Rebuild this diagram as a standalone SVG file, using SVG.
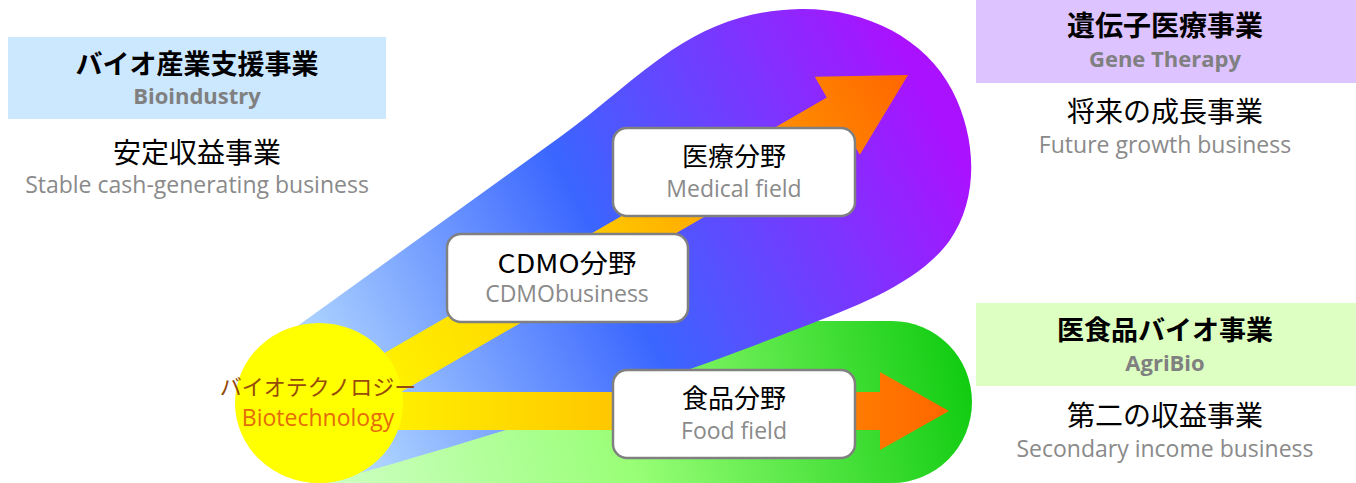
<svg xmlns="http://www.w3.org/2000/svg" width="1356" height="483" viewBox="0 0 1356 483">
<style>
.jp{font-family:"Noto Sans CJK JP","Noto Sans CJK SC",sans-serif;fill:#000;text-anchor:middle}
.jpb{font-family:"Noto Sans CJK JP","Noto Sans CJK SC",sans-serif;fill:#000;font-weight:700;text-anchor:middle}
.en{font-family:"Open Sans","Noto Sans",sans-serif;fill:#8a8a8a;font-size:23px;text-anchor:middle}
.enb{font-family:"Open Sans","Noto Sans",sans-serif;fill:#808080;font-size:22px;font-weight:700;text-anchor:middle}
.box{fill:#fff;stroke:#808080;stroke-width:2.5}
</style>
<defs>
<linearGradient id="gPurple" gradientUnits="userSpaceOnUse" x1="330" y1="440" x2="940" y2="120">
<stop offset="0" stop-color="#B8DEFF"/>
<stop offset="0.48" stop-color="#3A66FF"/>
<stop offset="1" stop-color="#AA12FF"/>
</linearGradient>
<linearGradient id="gGreen" gradientUnits="userSpaceOnUse" x1="340" y1="483" x2="960" y2="340">
<stop offset="0" stop-color="#CCFFC0"/>
<stop offset="0.45" stop-color="#99FF77"/>
<stop offset="1" stop-color="#11CC11"/>
</linearGradient>
<linearGradient id="gDiag" gradientUnits="userSpaceOnUse" x1="380" y1="380" x2="908" y2="75">
<stop offset="0" stop-color="#FFF200"/>
<stop offset="0.45" stop-color="#FFC400"/>
<stop offset="1" stop-color="#FF6600"/>
</linearGradient>
<linearGradient id="gHoriz" gradientUnits="userSpaceOnUse" x1="380" y1="0" x2="949" y2="0">
<stop offset="0" stop-color="#FFF200"/>
<stop offset="0.4" stop-color="#FFC800"/>
<stop offset="0.8" stop-color="#FF8000"/>
<stop offset="1" stop-color="#FF6600"/>
</linearGradient>
</defs>

<g id="background-shapes">
<path id="agri-band" d="M 340 321 L 892 321 A 80 81 0 0 1 892 483 L 320 483 L 320 400 Z" fill="url(#gGreen)"/>
<path id="gene-band" d="M 270 350 L 285 335 L 560 137 C 600 108, 635 75, 672 50 C 710 25, 750 10, 800 9 C 865 8, 925 38, 952 90 C 978 140, 978 200, 950 240 C 920 282, 860 305, 800 328 C 760 343, 730 355, 693 368 C 600 402, 460 445, 360 473 L 300 480 Z" fill="url(#gPurple)"/>
</g>

<g id="connectors">
<polygon id="arrow-medical" points="319.5,390.5 826.8,97.6 814.8,76.8 908,75 859.8,154.8 847.8,134 340.5,426.9" fill="url(#gDiag)"/>
<polygon id="arrow-food" points="330,392 880,392 880,372 949,411 880,450 880,430 330,430" fill="url(#gHoriz)"/>
</g>

<g id="node-biotech">
<ellipse cx="319" cy="403" rx="84" ry="80" fill="#FFFF00"/>
<text class="jp" x="318" y="395" font-size="22" style="fill:#964B0A">バイオテクノロジー</text>
<text class="en" x="318" y="426" style="fill:#E46C0A">Biotechnology</text>
</g>

<g id="node-medical">
<rect class="box" x="613" y="128" width="242" height="88" rx="14"/>
<text class="jp" x="734" y="166" font-size="26">医療分野</text>
<text class="en" x="734" y="197">Medical field</text>
</g>

<g id="node-cdmo">
<rect class="box" x="447" y="234" width="241" height="88" rx="14"/>
<text class="jp" x="567" y="273" font-size="26" textLength="139" lengthAdjust="spacingAndGlyphs">CDMO分野</text>
<text class="en" x="567" y="302">CDMObusiness</text>
</g>

<g id="node-food">
<rect class="box" x="613" y="370" width="242" height="88" rx="14"/>
<text class="jp" x="734" y="408" font-size="26">食品分野</text>
<text class="en" x="734" y="439">Food field</text>
</g>

<g id="node-bioindustry">
<rect x="8" y="37" width="378" height="82" fill="#CCE8FF"/>
<text class="jpb" x="197" y="74" font-size="27">バイオ産業支援事業</text>
<text class="enb" x="197" y="104">Bioindustry</text>
<text class="jp" x="197" y="163" font-size="28">安定収益事業</text>
<text class="en" x="197" y="193">Stable cash-generating business</text>
</g>

<g id="node-gene">
<rect x="976" y="0" width="380" height="83" fill="#DDC3FF"/>
<text class="jpb" x="1165" y="36" font-size="28">遺伝子医療事業</text>
<text class="enb" x="1165" y="67">Gene Therapy</text>
<text class="jp" x="1165" y="122" font-size="28">将来の成長事業</text>
<text class="en" x="1165" y="153">Future growth business</text>
</g>

<g id="node-agribio">
<rect x="976" y="303" width="380" height="83" fill="#DDFFC2"/>
<text class="jpb" x="1165" y="340" font-size="27">医食品バイオ事業</text>
<text class="enb" x="1165" y="371">AgriBio</text>
<text class="jp" x="1165" y="426" font-size="28">第二の収益事業</text>
<text class="en" x="1165" y="457">Secondary income business</text>
</g>
</svg>
